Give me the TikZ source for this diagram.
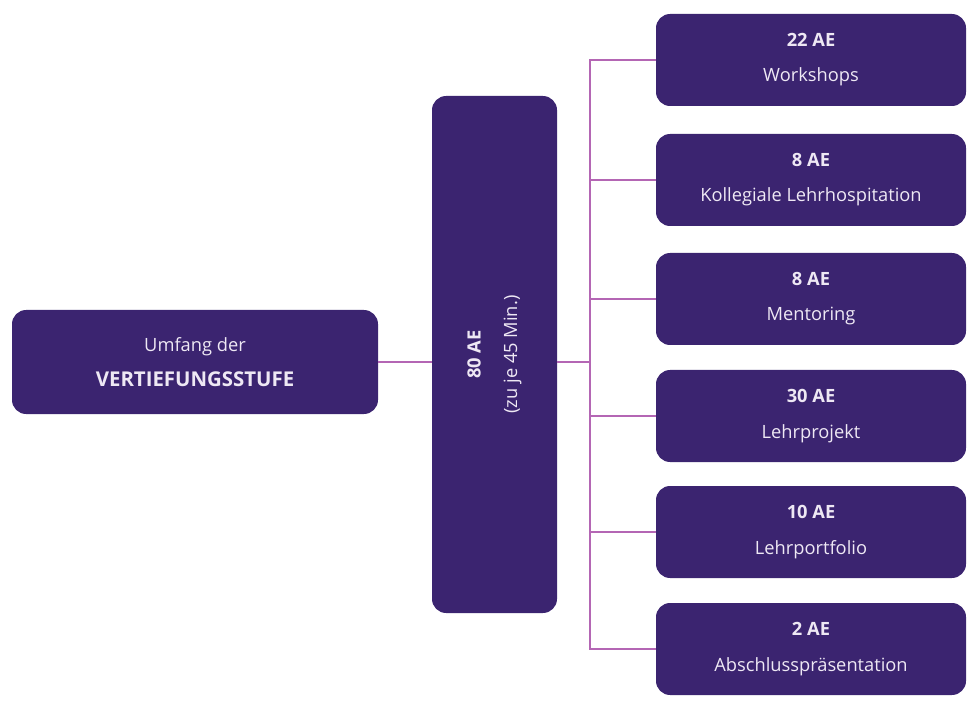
\documentclass[tikz,border=0pt]{standalone}
\usepackage{fontspec}
\setmainfont{Open Sans}
\definecolor{boxpurple}{HTML}{3B2470}
\definecolor{linepurple}{HTML}{B466B4}
\definecolor{boxtext}{HTML}{EEE8F4}

\begin{document}
\begin{tikzpicture}[
		x=0.025cm, y=-0.025cm,
		aebox/.style={
		% The shape:
		rectangle,
		rounded corners=10pt,
		% The size:
		minimum width=310*0.025cm,
		minimum height=92*0.025cm,
		% The filling:
		fill=boxpurple,
		% Font
		text=boxtext,
		font=\fontsize{13}{15}\selectfont,
		align=center
    		},
		branch/.style={
		draw=linepurple,
		line width=0.9pt
		}
	]
	\useasboundingbox (0,0) rectangle (979,714);

	\node (UMF)[aebox, minimum width=366*0.025cm, minimum height=104*0.025cm] at (195,362)
		{Umfang der\\[10pt]{\fontsize{14.5}{16}\selectfont\textbf{VERTIEFUNGSSTUFE}}};
	\node (SUM)[aebox, minimum width=517*0.025cm, minimum height=125*0.025cm, rotate=90] at (494.5,354.5)
		{\textbf{80 AE}\\[11pt](zu je 45 Min.)};

	\node (WS)[aebox] at (811,60)  {\textbf{22 AE}\\[10pt]Workshops};
	\node (KL)[aebox] at (811,180) {\textbf{8 AE}\\[10pt]Kollegiale Lehrhospitation};
	\node (MT)[aebox] at (811,299) {\textbf{8 AE}\\[10pt]Mentoring};
	\node (LP)[aebox] at (811,416) {\textbf{30 AE}\\[10pt]Lehrprojekt};
	\node (PF)[aebox] at (811,532) {\textbf{10 AE}\\[10pt]Lehrportfolio};
	\node (AP)[aebox] at (811,649) {\textbf{2 AE}\\[10pt]Abschlusspräsentation};

	\coordinate (T) at (590,362);

	% SUM is turned: its north is the left side, its south the right side
	\draw [branch] (UMF.east) -- (UMF.east -| SUM.north);
	\draw [branch] (SUM.south |- T) -- (T);
	\foreach \target in {WS,KL,MT,LP,PF,AP}
		\draw [branch] (T) |- (\target.west);
\end{tikzpicture}
\end{document}
